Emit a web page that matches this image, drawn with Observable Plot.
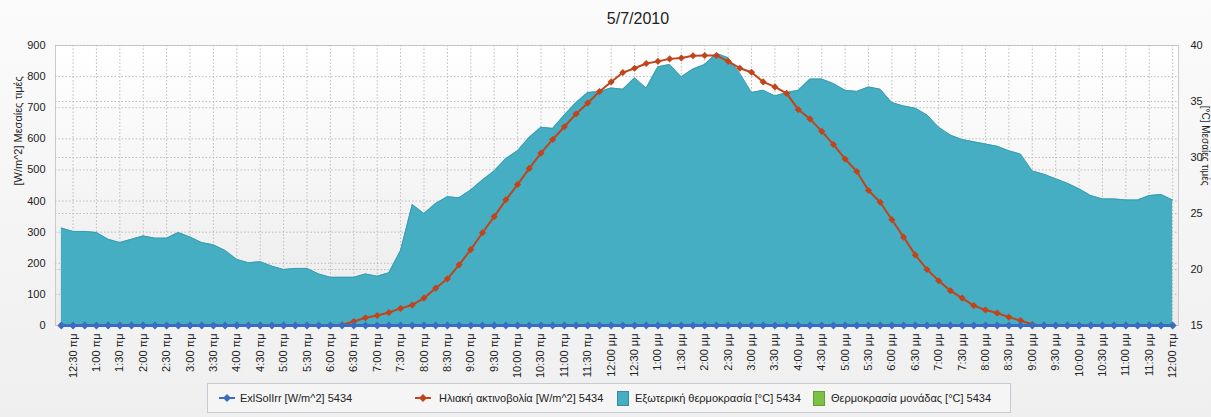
<!DOCTYPE html>
<html>
<head>
<meta charset="utf-8">
<script src="https://cdn.jsdelivr.net/npm/d3@7"></script>
<script src="https://cdn.jsdelivr.net/npm/@observablehq/plot@0.6"></script>
<style>
  body { margin: 0; background: #f4f4f4; font-family: "Liberation Sans", Arial, sans-serif; }
  #wrap { position: relative; width: 1211px; height: 417px; overflow: hidden; background: linear-gradient(#fbfbfb, #efefef); }
  #chart { position: absolute; left: 0; top: 0; }
  #title { position: absolute; left: 538px; top: 10px; width: 200px; text-align: center; font-size: 16px; color: #222; }
  #legend { position: absolute; left: 207px; top: 383px; width: 802px; height: 28px; border: 1px solid #c6cbd3; background: #f5f5f5; font-size: 11px; color: #222; }
  .item { position: absolute; top: 0; height: 28px; line-height: 28px; white-space: nowrap; }
  .sw { position: absolute; top: 7px; width: 10px; height: 13px; }
</style>
</head>
<body>
<div id="wrap">
  <div id="chart"></div>
  <div id="title"></div>
  <div id="legend"></div>
</div>
<script>
const chartTitle = "5/7/2010";
const leftAxisLabel = "[W/m^2] Μεσαίες τιμές";
const rightAxisLabel = "[°C] Μεσαίες τιμές";
const seriesNames = ["ExlSolIrr [W/m^2] 5434", "Ηλιακή ακτινοβολία [W/m^2] 5434", "Εξωτερική θερμοκρασία [°C] 5434", "Θερμοκρασία μονάδας [°C] 5434"];
const seriesColors = ["#3b6cc4", "#c1441b", "#45aec2", "#7cc242"];

// 15-minute samples (hours after midnight): 00:15 ... 24:00
const times = d3.range(1, 97).map(i => i * 0.25);

const exlSolIrr = [
  0,0,0,0, 0,0,0,0, 0,0,0,0, 0,0,0,0, 0,0,0,0, 0,0,0,0,
  0,0,0,0, 0,0,0,0, 0,0,0,0, 0,0,0,0, 0,0,0,0, 0,0,0,0,
  0,0,0,0, 0,0,0,0, 0,0,0,0, 0,0,0,0, 0,0,0,0, 0,0,0,0,
  0,0,0,0, 0,0,0,0, 0,0,0,0, 0,0,0,0, 0,0,0,0, 0,0,0,0
];

const solarRadiation = [
  0,0,0,0, 0,0,0,0, 0,0,0,0, 0,0,0,0, 0,0,0,0, 0,0,0,0,
  2,13,25,32, 42,55,66,88, 120,150,195,244, 298,350,404,453,
  505,554,598,639, 680,715,752,783, 813,827,842,849, 857,860,867,868,
  868,849,827,814, 783,767,746,694, 664,624,582,535, 495,434,396,340,
  284,227,180,144, 112,88,64,50, 40,27,16,3,
  0,0,0,0, 0,0,0,0, 0,0,0,0
];

const outsideTemp = [
  23.7,23.4,23.4,23.3, 22.7,22.4,22.7,23.0, 22.8,22.8,23.3,22.9,
  22.4,22.2,21.7,20.9, 20.6,20.7,20.3,20.0, 20.1,20.1,19.6,19.3,
  19.3,19.3,19.6,19.4, 19.7,21.7,25.8,25.0, 25.9,26.5,26.4,27.1,
  28.0,28.8,29.9,30.6, 31.8,32.7,32.6,33.8, 34.9,35.8,35.9,36.2,
  36.1,37.1,36.2,38.1, 38.3,37.2,37.9,38.3, 39.3,38.9,37.5,35.8,
  36.0,35.5,35.8,36.0, 37.0,37.0,36.6,36.0, 35.9,36.3,36.1,34.9,
  34.6,34.4,33.8,32.7, 32.0,31.6,31.4,31.2, 31.0,30.6,30.3,28.8,
  28.5,28.1,27.7,27.2, 26.6,26.3,26.3,26.2, 26.2,26.6,26.7,26.2
];

const leftTicks = [0, 100, 200, 300, 400, 500, 600, 700, 800, 900];
const tempTicks = [15, 20, 25, 30, 35, 40];
const tickTimes = d3.range(1, 49).map(i => i * 0.5);
const tickLabels = [
  "12:30 πμ","1:00 πμ","1:30 πμ","2:00 πμ","2:30 πμ","3:00 πμ","3:30 πμ","4:00 πμ","4:30 πμ","5:00 πμ","5:30 πμ","6:00 πμ",
  "6:30 πμ","7:00 πμ","7:30 πμ","8:00 πμ","8:30 πμ","9:00 πμ","9:30 πμ","10:00 πμ","10:30 πμ","11:00 πμ","11:30 πμ","12:00 μμ",
  "12:30 μμ","1:00 μμ","1:30 μμ","2:00 μμ","2:30 μμ","3:00 μμ","3:30 μμ","4:00 μμ","4:30 μμ","5:00 μμ","5:30 μμ","6:00 μμ",
  "6:30 μμ","7:00 μμ","7:30 μμ","8:00 μμ","8:30 μμ","9:00 μμ","9:30 μμ","10:00 μμ","10:30 μμ","11:00 μμ","11:30 μμ","12:00 πμ"
];

// temperature axis (15..40 °C) shares the 0..900 frame
const tempToLeft = c => (c - 15) * 36;
const leftToTemp = v => 15 + v / 36;

const data = times.map((t, i) => ({t, exl: exlSolIrr[i], solar: solarRadiation[i], temp: outsideTemp[i]}));

const defs = () => {
  const ns = "http://www.w3.org/2000/svg";
  const d = document.createElementNS(ns, "defs");
  d.innerHTML = '<linearGradient id="bgGrad" x1="0" y1="0" x2="0" y2="1"><stop offset="0" stop-color="#ffffff"/><stop offset="1" stop-color="#ebebeb"/></linearGradient>';
  return d;
};

const gridStyle = {stroke: "#bdbdbd", strokeOpacity: 1, strokeDasharray: "1.5,2"};

const chart = Plot.plot({
  width: 1211,
  height: 380,
  marginLeft: 55,
  marginRight: 33,
  marginTop: 45,
  marginBottom: 55,
  style: {background: "transparent", fontSize: "11px", fontFamily: "'Liberation Sans', Arial, sans-serif", color: "#222"},
  x: {domain: [0.125, 24.125]},
  y: {domain: [0, 900]},
  marks: [
    defs,
    Plot.frame({fill: "url(#bgGrad)", stroke: "#cbcbcb"}),
    Plot.gridY(leftTicks.slice(1), gridStyle),
    Plot.gridY(tempTicks.slice(1, -1).map(tempToLeft), gridStyle),
    Plot.gridX(tickTimes, gridStyle),
    Plot.areaY(data, {x: "t", y: d => tempToLeft(d.temp), fill: seriesColors[2]}),
    Plot.lineY(data, {x: "t", y: d => tempToLeft(d.temp), stroke: "#3a9db1", strokeWidth: 1}),
    Plot.lineY(data, {x: "t", y: "solar", stroke: seriesColors[1], strokeWidth: 2}),
    Plot.dot(data, {x: "t", y: "solar", symbol: "diamond2", r: 3.2, fill: seriesColors[1], stroke: null}),
    Plot.lineY(data, {x: "t", y: "exl", stroke: seriesColors[0], strokeWidth: 3}),
    Plot.dot(data, {x: "t", y: "exl", symbol: "diamond2", r: 3.5, fill: seriesColors[0], stroke: null}),
    Plot.axisY({anchor: "left", ticks: leftTicks, tickSize: 0, tickPadding: 10, label: null, fontSize: 11}),
    Plot.axisY({anchor: "right", ticks: tempTicks.map(tempToLeft), tickFormat: v => String(Math.round(leftToTemp(v))), tickSize: 0, tickPadding: 12, label: null, fontSize: 11}),
    Plot.axisX({ticks: tickTimes, tickFormat: d => tickLabels[Math.round(d * 2) - 1], tickRotate: -90, tickSize: 0, tickPadding: 8, label: null, fontSize: 11}),
    Plot.text([leftAxisLabel], {text: d => d, frameAnchor: "left", dx: -37, rotate: -90, fontSize: 11, fill: "#222"}),
    Plot.text([rightAxisLabel], {text: d => d, frameAnchor: "right", dx: 27, rotate: 90, fontSize: 10, fill: "#222"})
  ]
});
document.getElementById("chart").appendChild(chart);
document.getElementById("title").textContent = chartTitle;

// legend
const legend = document.getElementById("legend");
const itemPos = [[11, 32], [207, 231], [409, 427], [605, 623]];
seriesNames.forEach((name, i) => {
  const [iconX, textX] = itemPos[i];
  if (i < 2) {
    const icon = document.createElementNS("http://www.w3.org/2000/svg", "svg");
    icon.setAttribute("width", 16); icon.setAttribute("height", 10);
    icon.style.position = "absolute"; icon.style.left = iconX + "px"; icon.style.top = "9px";
    icon.innerHTML = `<line x1="0" y1="5" x2="16" y2="5" stroke="${seriesColors[i]}" stroke-width="2"/><path d="M8 1 L12 5 L8 9 L4 5 Z" fill="${seriesColors[i]}"/>`;
    legend.appendChild(icon);
  } else {
    const sw = document.createElement("div");
    sw.className = "sw";
    sw.style.left = iconX + "px";
    sw.style.background = seriesColors[i];
    sw.style.border = "1px solid " + d3.color(seriesColors[i]).darker(0.6);
    legend.appendChild(sw);
  }
  const t = document.createElement("div");
  t.className = "item";
  t.style.left = textX + "px";
  t.textContent = name;
  legend.appendChild(t);
});
</script>
</body>
</html>
